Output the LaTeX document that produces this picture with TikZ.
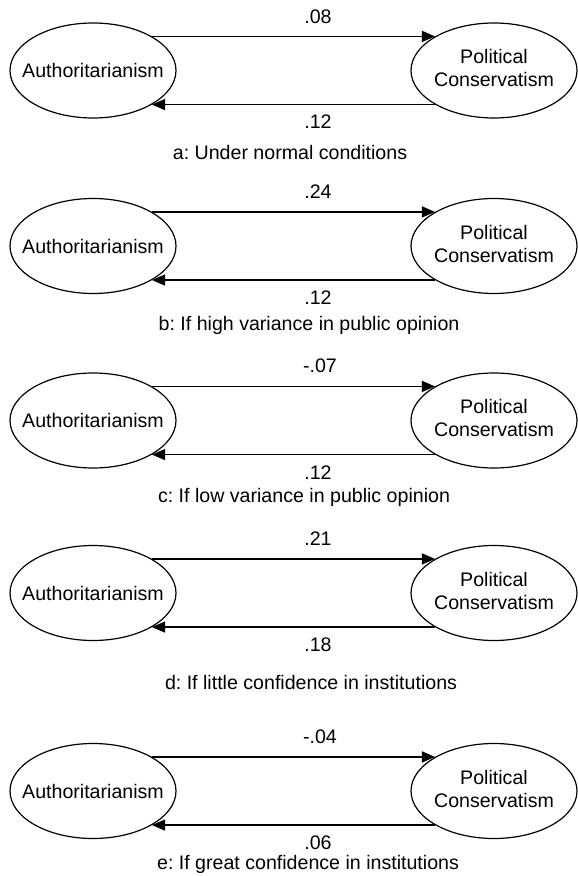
\documentclass[tikz,border=0pt]{standalone}
\usepackage{fontspec}
\setmainfont{Liberation Sans}
\usetikzlibrary{shapes.geometric,arrows.meta}
\frenchspacing
\newcommand{\polcons}{\makebox[0pt]{\begin{tabular}{@{}c@{}}Political\\Conservatism\end{tabular}}}

\begin{document}
\begin{tikzpicture}[x=0.5pt,y=-0.5pt,>={Triangle[length=6.5pt,width=5.5pt]},
  font=\fontsize{9.8pt}{11.5pt}\selectfont]
\tikzstyle{latent} = [ellipse, draw=black, line width=0.6pt, inner sep=0pt, minimum width=83pt, minimum height=47.5pt]
\tikzstyle{coef} = [inner sep=0pt]
\tikzstyle{panelTitle} = [inner sep=0pt]
\tikzstyle{effect} = [->, line width=0.6pt]

\useasboundingbox (0,0) rectangle (577,876);

% a: normal conditions
\node(authA) [latent] at (93,70.5) {\makebox[0pt]{Authoritarianism}};
\node(consA) [latent] at (494,70.5) {\polcons};
\node(coefUpA) [coef] at (318,17) {.08};
\node(coefDownA) [coef] at (318,122) {.12};
\node(titleA) [panelTitle] at (290,152) {a: Under normal conditions};
\draw[effect] (authA.30) -- (consA.150);
\draw[effect] (consA.210) -- (authA.330);

% b: high variance
\node(authB) [latent] at (93,246) {\makebox[0pt]{Authoritarianism}};
\node(consB) [latent] at (494,246) {\polcons};
\node(coefUpB) [coef] at (318,192) {.24};
\node(coefDownB) [coef] at (318,298) {.12};
\node(titleB) [panelTitle] at (309,325) {b: If high variance in public opinion};
\draw[effect] (authB.30) -- (consB.150);
\draw[effect] (consB.210) -- (authB.330);

% c: low variance
\node(authC) [latent] at (93,420.5) {\makebox[0pt]{Authoritarianism}};
\node(consC) [latent] at (494,420.5) {\polcons};
\node(coefUpC) [coef] at (320,366) {-.07};
\node(coefDownC) [coef] at (318,473) {.12};
\node(titleC) [panelTitle] at (304,497) {c: If low variance in public opinion};
\draw[effect] (authC.30) -- (consC.150);
\draw[effect] (consC.210) -- (authC.330);

% d: little confidence
\node(authD) [latent] at (93,593) {\makebox[0pt]{Authoritarianism}};
\node(consD) [latent] at (494,593) {\polcons};
\node(coefUpD) [coef] at (318,539) {.21};
\node(coefDownD) [coef] at (318,645) {.18};
\node(titleD) [panelTitle] at (311,682) {d: If little confidence in institutions};
\draw[effect] (authD.30) -- (consD.150);
\draw[effect] (consD.210) -- (authD.330);

% e: great confidence
\node(authE) [latent] at (93,791) {\makebox[0pt]{Authoritarianism}};
\node(consE) [latent] at (494,791) {\polcons};
\node(coefUpE) [coef] at (320,737) {-.04};
\node(coefDownE) [coef] at (318,843) {.06};
\node(titleE) [panelTitle] at (308,864) {e: If great confidence in institutions};
\draw[effect] (authE.30) -- (consE.150);
\draw[effect] (consE.210) -- (authE.330);
\end{tikzpicture}
\end{document}
